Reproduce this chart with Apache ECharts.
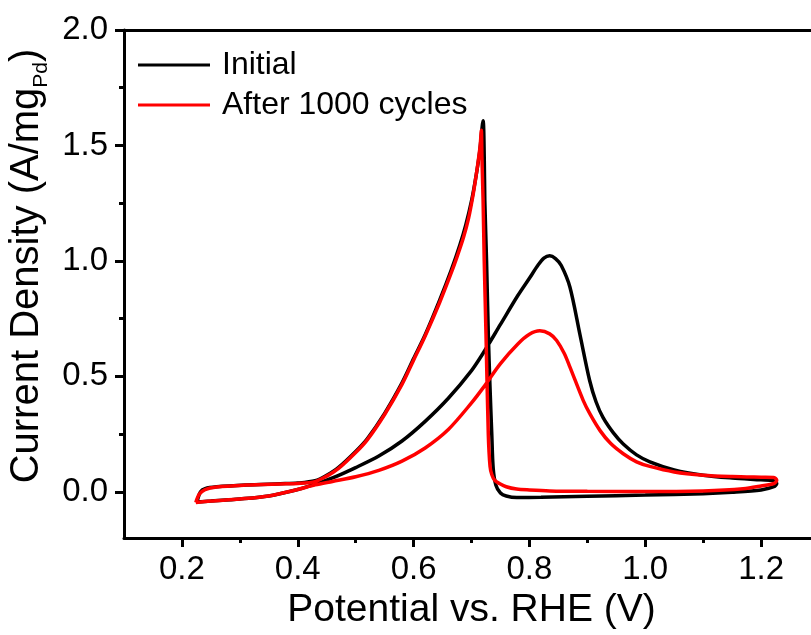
<!DOCTYPE html>
<html>
<head>
<meta charset="utf-8">
<script src="https://cdn.jsdelivr.net/npm/echarts@6/dist/echarts.min.js"></script>
<style>
html,body{margin:0;padding:0;background:#fff;}
#chart{width:811px;height:635px;}
</style>
</head>
<body>
<div id="chart"></div>
<script>
// ---- Data ----
const seriesNames = ['Initial', 'After 1000 cycles'];
const seriesColors = ['#000000', '#ff0000'];

// Initial: forward (anodic) scan
const initialForwardV = [0.226,0.25,0.30,0.35,0.40,0.43,0.46,0.50,0.54,0.58,0.62,0.66,0.70,0.72,0.75,0.78,0.80,0.815,0.825,0.835,0.845,0.855,0.87,0.887,0.904,0.915,0.927,0.945,0.962,0.985,1.008,1.05,1.10,1.15,1.20,1.222,1.227];
const initialForwardJ = [-0.044,-0.040,-0.031,-0.018,0.010,0.033,0.060,0.105,0.155,0.220,0.305,0.405,0.525,0.600,0.725,0.850,0.925,0.982,1.012,1.022,1.010,0.980,0.886,0.684,0.482,0.390,0.322,0.255,0.207,0.160,0.130,0.095,0.072,0.060,0.052,0.048,0.036];
// Initial: reverse (cathodic) scan
const initialReverseV = [1.222,1.20,1.15,1.10,1.00,0.90,0.82,0.778,0.76,0.75,0.742,0.7375,0.735,0.732,0.729,0.726,0.723,0.722,0.720,0.714,0.708,0.70,0.69,0.68,0.665,0.645,0.62,0.60,0.58,0.55,0.52,0.50,0.47,0.45,0.43,0.40,0.37,0.31,0.26,0.24,0.232,0.226];
const initialReverseJ = [0.022,0.008,-0.002,-0.008,-0.014,-0.019,-0.024,-0.025,-0.018,-0.005,0.030,0.100,0.250,0.450,0.685,1.000,1.260,1.450,1.607,1.470,1.370,1.260,1.155,1.070,0.960,0.830,0.680,0.577,0.472,0.340,0.230,0.175,0.105,0.072,0.048,0.038,0.035,0.030,0.022,0.014,0.000,-0.044];

// After 1000 cycles: forward scan
const afterForwardV = [0.224,0.25,0.30,0.35,0.40,0.43,0.46,0.50,0.54,0.58,0.62,0.66,0.70,0.72,0.75,0.78,0.80,0.818,0.835,0.847,0.86,0.87,0.893,0.905,0.922,0.94,0.962,0.985,1.008,1.05,1.10,1.15,1.20,1.222,1.227];
const afterForwardJ = [-0.046,-0.040,-0.031,-0.018,0.010,0.030,0.045,0.065,0.093,0.133,0.190,0.270,0.385,0.450,0.555,0.640,0.682,0.697,0.684,0.655,0.600,0.540,0.395,0.335,0.265,0.210,0.165,0.130,0.110,0.086,0.072,0.066,0.063,0.062,0.050];
// After 1000 cycles: reverse scan
const afterReverseV = [1.222,1.20,1.169,1.10,1.00,0.90,0.835,0.80,0.778,0.76,0.749,0.74,0.735,0.732,0.729,0.725,0.722,0.720,0.718,0.717,0.715,0.712,0.708,0.703,0.695,0.686,0.674,0.663,0.645,0.62,0.60,0.58,0.55,0.52,0.50,0.47,0.45,0.43,0.40,0.37,0.31,0.26,0.24,0.23,0.224];
const afterReverseJ = [0.036,0.025,0.013,0.004,0.001,0.002,0.004,0.008,0.012,0.022,0.035,0.050,0.075,0.110,0.250,0.685,1.000,1.262,1.450,1.566,1.500,1.440,1.370,1.290,1.185,1.100,1.010,0.935,0.820,0.675,0.570,0.465,0.335,0.225,0.170,0.100,0.068,0.044,0.036,0.034,0.029,0.021,0.010,-0.010,-0.046];

// Axis ticks
const xMajorTicks = [0.2,0.4,0.6,0.8,1.0,1.2];
const xMinorTicks = [0.3,0.5,0.7,0.9,1.1];
const yMajorTicks = [0.0,0.5,1.0,1.5,2.0];
const yMinorTicks = [0.25,0.75,1.25,1.75];
const xRange = [0.1, 1.3];
const yRange = [-0.2, 2.0];

// ---- Build ----
function zip(a, b) { return a.map((v, i) => [v, b[i]]); }
const initialData = zip(initialForwardV, initialForwardJ).concat(zip(initialReverseV, initialReverseJ));
const afterData = zip(afterForwardV, afterForwardJ).concat(zip(afterReverseV, afterReverseJ));

const FONT = '"Liberation Sans", Arial, sans-serif';
const axisLineStyle = { color: '#000', width: 3 };

const chart = echarts.init(document.getElementById('chart'), null, { renderer: 'canvas' });
chart.setOption({
  animation: false,
  backgroundColor: '#ffffff',
  grid: { left: 124, top: 30, right: -8, bottom: 97, containLabel: false, outerBoundsMode: 'none' },
  legend: {
    show: true,
    orient: 'vertical',
    left: 133,
    top: 43,
    icon: 'rect',
    itemWidth: 72,
    itemHeight: 3,
    itemGap: 6,
    data: seriesNames,
    textStyle: { fontFamily: FONT, fontSize: 32, color: '#000', padding: [0, 0, 0, 7], lineHeight: 34 }
  },
  xAxis: [
    {
      type: 'value', min: xRange[0], max: xRange[1], position: 'bottom',
      axisLine: { show: true, onZero: false, lineStyle: axisLineStyle },
      axisTick: { show: true, inside: false, length: 9, customValues: xMajorTicks, lineStyle: { color: '#000', width: 3 } },
      axisLabel: { show: true, customValues: xMajorTicks, margin: 15, fontFamily: FONT, fontSize: 33, color: '#000',
        formatter: v => Number(v).toFixed(1) },
      splitLine: { show: false },
      name: 'Potential vs. RHE (V)', nameLocation: 'middle', nameGap: 50,
      nameTextStyle: { fontFamily: FONT, fontSize: 39, color: '#000' }
    },
    {
      type: 'value', min: xRange[0], max: xRange[1], position: 'bottom',
      axisLine: { show: false, onZero: false },
      axisTick: { show: true, inside: false, length: 5, customValues: xMinorTicks, lineStyle: { color: '#000', width: 3 } },
      axisLabel: { show: false },
      splitLine: { show: false }
    },
    {
      type: 'value', min: xRange[0], max: xRange[1], position: 'top',
      axisLine: { show: true, onZero: false, lineStyle: axisLineStyle },
      axisTick: { show: false }, axisLabel: { show: false }, splitLine: { show: false }
    }
  ],
  yAxis: [
    {
      type: 'value', min: yRange[0], max: yRange[1], position: 'left',
      axisLine: { show: true, onZero: false, lineStyle: axisLineStyle },
      axisTick: { show: true, inside: false, length: 9, customValues: yMajorTicks, lineStyle: { color: '#000', width: 3 } },
      axisLabel: { show: true, customValues: yMajorTicks, margin: 16, fontFamily: FONT, fontSize: 33, color: '#000',
        formatter: v => Number(v).toFixed(1) },
      splitLine: { show: false },
      name: '{a|Current Density (A/mg}{s|Pd}{a|)}', nameLocation: 'middle', nameGap: 72, nameRotate: 90,
      nameTextStyle: {
        color: '#000',
        padding: [0, 0, 0, 36],
        rich: {
          a: { fontFamily: FONT, fontSize: 40, color: '#000', lineHeight: 48 },
          s: { fontFamily: FONT, fontSize: 21, color: '#000', lineHeight: 21, verticalAlign: 'bottom' }
        }
      }
    },
    {
      type: 'value', min: yRange[0], max: yRange[1], position: 'left',
      axisLine: { show: false, onZero: false },
      axisTick: { show: true, inside: false, length: 5, customValues: yMinorTicks, lineStyle: { color: '#000', width: 3 } },
      axisLabel: { show: false },
      splitLine: { show: false }
    }
  ],
  series: [
    {
      name: seriesNames[0], type: 'line', xAxisIndex: 0, yAxisIndex: 0,
      data: initialData, showSymbol: false, symbol: 'none', smooth: 0.3,
      color: seriesColors[0], lineStyle: { color: seriesColors[0], width: 3.5 }, clip: true, z: 2
    },
    {
      name: seriesNames[1], type: 'line', xAxisIndex: 0, yAxisIndex: 0,
      data: afterData, showSymbol: false, symbol: 'none', smooth: 0.3,
      color: seriesColors[1], lineStyle: { color: seriesColors[1], width: 3.5 }, clip: true, z: 3
    }
  ]
});
</script>
</body>
</html>
